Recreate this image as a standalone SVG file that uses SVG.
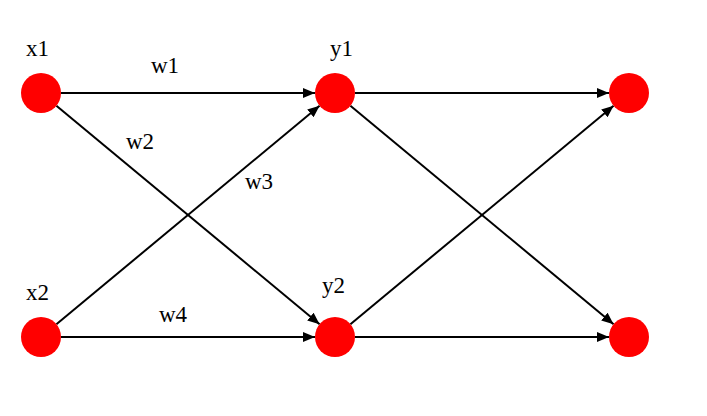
<svg xmlns="http://www.w3.org/2000/svg" width="707" height="416" viewBox="0 0 707 416">
<defs>
<style>
.node{fill:#ff0000;}
.edge{stroke:#000;stroke-width:2;fill:none;marker-end:url(#arr);}
text{font-family:"Liberation Serif","Times New Roman",serif;font-size:23px;fill:#000;}
</style>
<marker id="arr" viewBox="0 0 12 10" refX="12" refY="5" markerWidth="12" markerHeight="10" markerUnits="userSpaceOnUse" orient="auto">
<path d="M0,0 L12,5 L0,10 z" fill="#000"/>
</marker>
</defs>
<rect width="707" height="416" fill="#fff"/>
<g id="connectors">
<line class="edge" x1="61" y1="93" x2="315" y2="93"/>
<line class="edge" x1="56.4" y1="105.8" x2="319.6" y2="324.2"/>
<line class="edge" x1="56.4" y1="324.2" x2="319.6" y2="105.8"/>
<line class="edge" x1="61" y1="337" x2="315" y2="337"/>
<line class="edge" x1="355" y1="93" x2="609" y2="93"/>
<line class="edge" x1="350.4" y1="105.8" x2="613.6" y2="324.2"/>
<line class="edge" x1="350.4" y1="324.2" x2="613.6" y2="105.8"/>
<line class="edge" x1="355" y1="337" x2="609" y2="337"/>
<text x="151" y="73">w1</text>
<text x="126" y="149">w2</text>
<text x="245" y="189">w3</text>
<text x="159" y="322">w4</text>
</g>
<g id="x1"><circle class="node" cx="41" cy="93" r="20"/><text x="26" y="56">x1</text></g>
<g id="x2"><circle class="node" cx="41" cy="337" r="20"/><text x="26" y="300">x2</text></g>
<g id="y1"><circle class="node" cx="335" cy="93" r="20"/><text x="330" y="56">y1</text></g>
<g id="y2"><circle class="node" cx="335" cy="337" r="20"/><text x="322" y="293">y2</text></g>
<g id="o1"><circle class="node" cx="629" cy="93" r="20"/></g>
<g id="o2"><circle class="node" cx="629" cy="337" r="20"/></g>
</svg>
